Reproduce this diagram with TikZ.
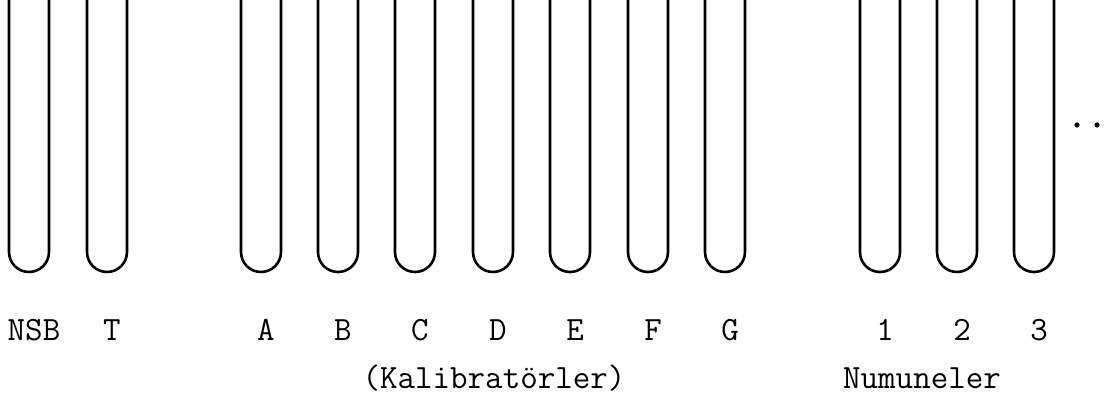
\documentclass[tikz,border=0pt]{standalone}
\usepackage{fontspec}
\usepackage{tikz}
\usetikzlibrary{positioning}
\tikzstyle{tube} = [line width=2.6pt, line cap=round, line join=round]
\tikzstyle{tubelabel} = [font=\fontsize{34}{40}\selectfont\ttfamily, anchor=base, inner sep=0pt]
\tikzstyle{grouplabel} = [font=\fontsize{34}{40}\selectfont\ttfamily, anchor=base, inner sep=0pt]

\begin{document}
\begin{tikzpicture}[x=1pt, y=1pt]
        \useasboundingbox (0,0) rectangle (1109,408);

        % test tubes with their labels underneath
        \foreach \x/\lab/\name in {29/NSB/nsb, 107/T/t, 261/A/a, 338/B/b, 415/C/c, 493/D/d, 570/E/e, 648/F/f, 725/G/g, 880/1/one, 957/2/two, 1034/3/three} {
            \draw [tube] (\x-20,412) -- (\x-20,156) arc[start angle=180, end angle=360, radius=20] -- (\x+20,412);
            \node (lbl\name) [tubelabel] at (\x+5,68) {\lab};
        }

        \node (calib) [grouplabel] at (494,20) {(Kalibratörler)};
        \node (samples) [grouplabel] at (922,20) {Numuneler};

        % more samples follow
        \fill (1077,283) circle (2.6pt);
        \fill (1097,283) circle (2.6pt);
    \end{tikzpicture}
\end{document}
